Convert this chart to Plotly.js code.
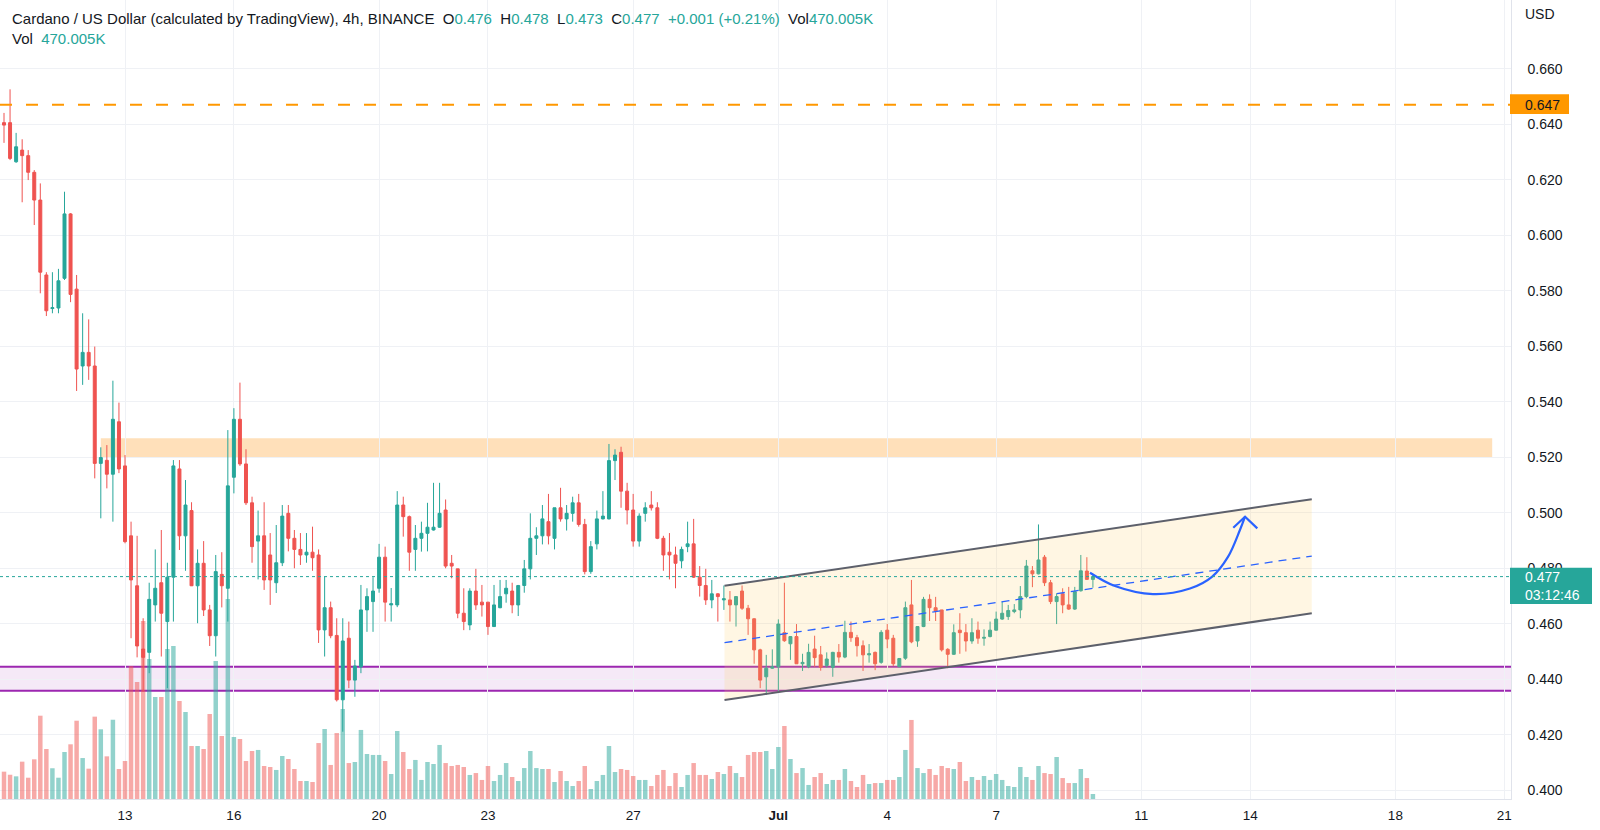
<!DOCTYPE html>
<html>
<head>
<meta charset="utf-8">
<script src="https://cdn.plot.ly/plotly-3.0.1.min.js"></script>
<style>
  html, body { margin: 0; padding: 0; background: #ffffff; }
  #chart { width: 1600px; height: 830px; }
</style>
</head>
<body>
<div id="chart"></div>
<script>
// ---------------- DATA ----------------
// 4h candles, ADA/USD (Binance), first candle opens 2022-06-09 16:00
const firstCandle = '2022-06-09 16:00';
const candleHours = 4;

const open = [
0.6406,0.6406,0.6265,0.6307,0.6287,0.6227,0.6127,0.5857,0.5736,0.5738,
0.5845,0.6077,0.5806,0.5529,0.5578,0.5529,0.5178,0.5189,0.5139,0.5328,
0.5169,0.4917,0.4737,0.4509,0.4497,0.4668,0.4748,0.4608,0.4768,0.5158,
0.4917,0.5008,0.4737,0.4818,0.4650,0.4557,0.4778,0.4728,0.5128,0.5337,
0.5176,0.5036,0.4898,0.4917,0.4848,0.4748,0.4820,0.4998,0.4908,0.4868,
0.4848,0.4858,0.4848,0.4578,0.4658,0.4558,0.4326,0.4548,0.4397,0.4445,
0.4650,0.4680,0.4728,0.4840,0.4668,0.4668,0.5028,0.4986,0.4868,0.4908,
0.4926,0.4938,0.4948,0.5010,0.4818,0.4798,0.4638,0.4596,0.4718,0.4678,
0.4678,0.4590,0.4658,0.4708,0.4718,0.4668,0.4738,0.4798,0.4908,0.4917,
0.4968,0.4908,0.5018,0.4978,0.4998,0.5036,0.4958,0.4788,0.4888,0.4978,
0.4978,0.5188,0.5218,0.5078,0.5010,0.4898,0.4998,0.5028,0.5018,0.4908,
0.4858,0.4848,0.4827,0.4878,0.4888,0.4768,0.4738,0.4686,0.4708,0.4686,
0.4686,0.4668,0.4718,0.4656,0.4618,0.4506,0.4409,0.4440,0.4445,0.4568,
0.4528,0.4554,0.4456,0.4445,0.4509,0.4488,0.4450,0.4443,0.4497,0.4480,
0.4569,0.4550,0.4521,0.4488,0.4497,0.4461,0.4577,0.4548,0.4445,0.4476,
0.4668,0.4538,0.4590,0.4688,0.4658,0.4650,0.4508,0.4490,0.4577,0.4568,
0.4538,0.4577,0.4548,0.4554,0.4577,0.4617,0.4626,0.4644,0.4650,0.4698,
0.4791,0.4780,0.4840,0.4748,0.4680,0.4708,0.4668,0.4653,0.4719,0.4790,
0.476];

const high = [
0.6441,0.6526,0.6369,0.6346,0.6307,0.6235,0.6187,0.5867,0.5867,0.5879,
0.6157,0.6080,0.5857,0.5719,0.5697,0.5599,0.5236,0.5244,0.5476,0.5397,
0.5208,0.4968,0.4917,0.4620,0.4748,0.4868,0.4938,0.4820,0.5190,0.5190,
0.5118,0.5038,0.4868,0.4898,0.4668,0.4848,0.4858,0.5298,0.5377,0.5469,
0.5229,0.5058,0.5008,0.5038,0.4927,0.4956,0.5028,0.5028,0.4938,0.4927,
0.4927,0.4950,0.4868,0.4770,0.4680,0.4620,0.4620,0.4608,0.4470,0.4740,
0.4728,0.4768,0.4888,0.4878,0.4729,0.5078,0.5058,0.4990,0.4956,0.4968,
0.5036,0.5108,0.5108,0.5048,0.4848,0.4798,0.4728,0.4728,0.4798,0.4740,
0.4678,0.4740,0.4758,0.4758,0.4748,0.4740,0.4830,0.4998,0.4948,0.5028,
0.5068,0.5018,0.5090,0.5028,0.5058,0.5068,0.4978,0.4898,0.5008,0.5078,
0.5248,0.5229,0.5238,0.5108,0.5068,0.4998,0.5038,0.5078,0.5038,0.4917,
0.4927,0.4878,0.4878,0.4968,0.4978,0.4808,0.4798,0.4758,0.4710,0.4738,
0.4718,0.4700,0.4738,0.4668,0.4620,0.4510,0.4488,0.4508,0.4616,0.4748,
0.4556,0.4599,0.4492,0.4528,0.4557,0.4520,0.4497,0.4499,0.4527,0.4611,
0.4608,0.4560,0.4540,0.4527,0.4500,0.4577,0.4599,0.4560,0.4476,0.4680,
0.4758,0.4592,0.4697,0.4706,0.4697,0.4650,0.4512,0.4598,0.4638,0.4599,
0.4620,0.4608,0.4580,0.4608,0.4644,0.4680,0.4668,0.4671,0.4736,0.4830,
0.4808,0.4958,0.4848,0.4758,0.4710,0.4728,0.4733,0.4733,0.4848,0.4840,
0.478];

const low = [
0.6333,0.6271,0.6261,0.6119,0.6199,0.6037,0.5791,0.5709,0.5719,0.5719,
0.5839,0.5759,0.5439,0.5461,0.5479,0.5124,0.4980,0.5088,0.4968,0.5143,
0.4890,0.4548,0.4479,0.4355,0.4422,0.4608,0.4482,0.4368,0.4608,0.4866,
0.4791,0.4736,0.4602,0.4628,0.4520,0.4482,0.4659,0.4608,0.5070,0.5169,
0.5028,0.4820,0.4760,0.4722,0.4668,0.4711,0.4808,0.4861,0.4800,0.4812,
0.4820,0.4791,0.4531,0.4482,0.4548,0.4320,0.4211,0.4368,0.4337,0.4422,
0.4571,0.4571,0.4712,0.4608,0.4608,0.4660,0.4914,0.4791,0.4791,0.4860,
0.4861,0.4936,0.4946,0.4800,0.4764,0.4620,0.4577,0.4577,0.4650,0.4626,
0.4560,0.4589,0.4656,0.4676,0.4638,0.4628,0.4712,0.4760,0.4848,0.4886,
0.4886,0.4868,0.4968,0.4936,0.4968,0.4950,0.4778,0.4780,0.4868,0.4976,
0.4976,0.5118,0.5018,0.4958,0.4878,0.4878,0.4968,0.5008,0.4905,0.4791,
0.4760,0.4728,0.4800,0.4858,0.4765,0.4698,0.4668,0.4656,0.4608,0.4650,
0.4608,0.4590,0.4650,0.4560,0.4456,0.4368,0.4344,0.4438,0.4355,0.4535,
0.4470,0.4455,0.4430,0.4440,0.4445,0.4431,0.4442,0.4409,0.4460,0.4476,
0.4535,0.4482,0.4430,0.4460,0.4433,0.4456,0.4512,0.4448,0.4444,0.4470,
0.4530,0.4517,0.4588,0.4610,0.4610,0.4500,0.4440,0.4488,0.4492,0.4500,
0.4528,0.4528,0.4521,0.4551,0.4576,0.4614,0.4614,0.4638,0.4620,0.4692,
0.4732,0.4778,0.4736,0.4671,0.4599,0.4638,0.4650,0.4650,0.4716,0.4758,
0.473];

const close = [
0.6397,0.6277,0.6319,0.6287,0.6227,0.6127,0.5867,0.5728,0.5739,0.5836,
0.6077,0.5787,0.5518,0.5578,0.5529,0.5178,0.5199,0.5139,0.5337,0.5158,
0.4896,0.4758,0.4520,0.4479,0.4688,0.4728,0.4638,0.4768,0.5169,0.4917,
0.5028,0.4737,0.4818,0.4650,0.4557,0.4788,0.4737,0.5097,0.5337,0.5176,
0.5036,0.4878,0.4917,0.4758,0.4758,0.4820,0.4988,0.4908,0.4868,0.4848,
0.4858,0.4838,0.4578,0.4658,0.4557,0.4326,0.4538,0.4397,0.4448,0.4650,
0.4698,0.4718,0.4840,0.4678,0.4672,0.5028,0.4986,0.4858,0.4908,0.4926,
0.4948,0.4948,0.4998,0.4808,0.4808,0.4638,0.4608,0.4718,0.4668,0.4668,
0.4590,0.4668,0.4698,0.4728,0.4668,0.4738,0.4798,0.4908,0.4917,0.4978,
0.4917,0.5018,0.4978,0.4998,0.5036,0.4958,0.4788,0.4878,0.4978,0.4988,
0.5188,0.5208,0.5078,0.5010,0.4898,0.4988,0.5018,0.5018,0.4908,0.4848,
0.4848,0.4818,0.4868,0.4888,0.4768,0.4738,0.4686,0.4708,0.4698,0.4690,
0.4668,0.4698,0.4656,0.4618,0.4506,0.4397,0.4440,0.4445,0.4599,0.4539,
0.4554,0.4456,0.4461,0.4497,0.4478,0.4443,0.4473,0.4497,0.4480,0.4569,
0.4550,0.4521,0.4488,0.4492,0.4456,0.4569,0.4545,0.4456,0.4475,0.4658,
0.4535,0.4590,0.4688,0.4658,0.4646,0.4506,0.4490,0.4568,0.4568,0.4538,
0.4568,0.4548,0.4551,0.4577,0.4617,0.4638,0.4648,0.4650,0.4698,0.4808,
0.4780,0.4830,0.4748,0.4680,0.4698,0.4668,0.4653,0.4716,0.4791,0.4760,
0.477];

// volume per candle, millions of ADA (last bar = 470.005K)
const volume = [
2.57,2.28,2.13,3.51,2.00,3.73,7.83,4.70,2.89,2.00,
4.42,5.14,7.36,3.85,2.85,7.74,6.55,4.01,7.45,2.82,
3.57,12.5,11.0,16.73,13.16,9.59,9.59,14.10,14.38,9.21,
8.18,4.98,4.98,4.70,7.99,12.97,5.92,18.80,5.83,5.64,
3.57,4.51,4.61,3.10,3.01,2.73,4.04,3.76,2.82,1.69,
1.69,1.60,5.26,6.58,3.20,6.20,8.46,3.38,3.48,6.49,
4.23,4.14,4.14,3.57,2.35,6.39,4.42,2.82,3.67,1.79,
3.48,3.29,5.08,3.38,3.10,3.20,3.01,2.26,2.44,1.79,
3.10,1.69,2.26,3.38,2.07,1.69,2.91,4.51,2.91,2.82,
2.82,1.60,2.63,1.69,1.22,1.69,3.10,0.94,1.69,2.26,
4.98,2.54,2.82,2.73,2.16,1.79,1.79,1.22,2.26,2.73,
1.22,2.44,1.13,2.26,3.38,2.26,2.26,1.88,2.54,2.35,
3.10,2.44,2.07,4.14,4.42,4.42,4.51,2.82,4.89,6.86,
3.76,2.44,2.91,1.32,2.07,2.44,1.41,1.79,1.79,2.82,
1.69,1.13,2.26,1.41,1.50,1.50,1.79,1.79,2.07,4.61,
7.43,2.91,2.44,2.82,2.26,3.10,2.91,2.82,3.48,1.69,
2.07,1.79,2.16,1.79,2.35,1.79,1.22,1.13,3.01,2.07,
1.79,3.10,2.44,2.35,3.95,1.97,1.50,1.50,2.82,1.97,
0.47];

// axis ticks
const xTickDates  = ['2022-06-13','2022-06-16','2022-06-20','2022-06-23','2022-06-27','2022-07-01',
                     '2022-07-04','2022-07-07','2022-07-11','2022-07-14','2022-07-18','2022-07-21'];
const xTickLabels = ['13','16','20','23','27','<b>Jul</b>','4','7','11','14','18','21'];
const yTickValues = [0.40,0.42,0.44,0.46,0.48,0.50,0.52,0.54,0.56,0.58,0.60,0.62,0.64,0.66];

// drawings
const resistanceLevel = 0.647;                       // orange dashed line
const supplyZone = {x: ['2022-06-12 08:00','2022-07-20 16:00'], y: [0.5199, 0.5269]};
const supportZone = {y: [0.4359, 0.4445]};
const channelX      = ['2022-06-29 12:24','2022-07-15 16:42'];
const channelTop    = [0.4737, 0.5049];
const channelBottom = [0.4325, 0.4638];
const channelMid    = [0.4532, 0.4844];
const arrowX = ['2022-07-09 14:04','2022-07-10 06:36','2022-07-11 07:42','2022-07-12 08:12',
                '2022-07-12 22:42','2022-07-13 09:18','2022-07-13 17:12','2022-07-13 20:36'];
const arrowY = [0.4784,0.4736,0.4707,0.4727,0.4769,0.4841,0.4938,0.4986];
const arrowHeadX = ['2022-07-13 12:48','2022-07-13 20:36','2022-07-14 04:42'];
const arrowHeadY = [0.4946,0.4986,0.4944];

const lastPrice = 0.477;
const countdown = '03:12:46';
const header = {name:'Cardano / US Dollar (calculated by TradingView), 4h, BINANCE',
                O:'0.476', H:'0.478', L:'0.473', C:'0.477', chg:'+0.001 (+0.21%)', vol:'470.005K'};

// ---------------- BUILD ----------------
const UP = '#26a69a', DOWN = '#ef5350';
const t0 = Date.parse(firstCandle.replace(' ','T') + ':00Z');
const step = candleHours * 3600e3;
const times = open.map((_, i) => t0 + i * step);
const volColors = open.map((o, i) => close[i] >= o ? 'rgba(38,166,154,0.5)' : 'rgba(239,83,80,0.5)');

const day = 86400e3;
const jun13 = Date.parse('2022-06-13T00:00:00Z');
const xRange = [jun13 - 3.4438 * day, jun13 + 38.185 * day];
const yRange = [0.39686, 0.68479];

const traces = [
  { type:'bar', x: times, y: volume, xaxis:'x', yaxis:'y',
    marker:{color: volColors, line:{width:0}}, width: step * 0.74, hoverinfo:'skip' },
  { type:'candlestick', x: times, open, high, low, close, xaxis:'x', yaxis:'y2',
    increasing:{line:{color:UP, width:1}, fillcolor:UP},
    decreasing:{line:{color:DOWN, width:1}, fillcolor:DOWN},
    whiskerwidth:0, hoverinfo:'skip' },
  // channel fill
  { type:'scatter', mode:'lines', xaxis:'x', yaxis:'y2',
    x:[channelX[0], channelX[1], channelX[1], channelX[0], channelX[0]],
    y:[channelTop[0], channelTop[1], channelBottom[1], channelBottom[0], channelTop[0]],
    fill:'toself', fillcolor:'rgba(255,204,102,0.18)', line:{width:0}, hoverinfo:'skip' },
  { type:'scatter', mode:'lines', xaxis:'x', yaxis:'y2', x: channelX, y: channelTop,
    line:{color:'#5d606b', width:2}, hoverinfo:'skip' },
  { type:'scatter', mode:'lines', xaxis:'x', yaxis:'y2', x: channelX, y: channelBottom,
    line:{color:'#5d606b', width:2}, hoverinfo:'skip' },
  { type:'scatter', mode:'lines', xaxis:'x', yaxis:'y2', x: channelX, y: channelMid,
    line:{color:'#2962ff', width:1.3, dash:'8px,6px'}, hoverinfo:'skip' },
  { type:'scatter', mode:'lines', xaxis:'x', yaxis:'y2', x: arrowX, y: arrowY,
    line:{color:'#2962ff', width:2.2, shape:'spline', smoothing:1}, hoverinfo:'skip' },
  { type:'scatter', mode:'lines', xaxis:'x', yaxis:'y2', x: arrowHeadX, y: arrowHeadY,
    line:{color:'#2962ff', width:2.2}, hoverinfo:'skip' }
];

const teal = s => '<span style="color:' + UP + '">' + s + '</span>';
const sp = '\u00a0\u00a0';
const headerLine = header.name + sp + 'O' + teal(header.O) + sp + 'H' + teal(header.H) + sp +
  'L' + teal(header.L) + sp + 'C' + teal(header.C) + sp + teal(header.chg) + sp + 'Vol' + teal(header.vol);

const plotW = 1511, plotH = 799;
const px2paperX = px => px / plotW;

const layout = {
  width:1600, height:830,
  margin:{l:0, r:89, t:0, b:31},
  paper_bgcolor:'#ffffff', plot_bgcolor:'#ffffff',
  showlegend:false,
  font:{family:'"Liberation Sans", Arial, sans-serif', color:'#131722', size:13},
  xaxis:{ type:'date', range:xRange, tickvals: xTickDates, ticktext: xTickLabels,
          showgrid:true, gridcolor:'#eff1f5', gridwidth:1, zeroline:false,
          showline:true, linecolor:'#e0e3eb', linewidth:1,
          ticks:'outside', ticklen:4, tickcolor:'rgba(0,0,0,0)',
          tickfont:{size:13.5, color:'#131722'},
          rangeslider:{visible:false}, fixedrange:true },
  yaxis:{ range:[0, 75.1], visible:false, showgrid:false, zeroline:false, fixedrange:true },
  yaxis2:{ overlaying:'y', side:'right', range:yRange, tickvals:yTickValues,
           ticktext: yTickValues.map(v => '\u00a0\u00a0\u00a0' + v.toFixed(3)),
           showgrid:true, gridcolor:'#eff1f5', gridwidth:1, zeroline:false,
           showline:true, linecolor:'#e0e3eb', linewidth:1,
           ticks:'outside', ticklen:1, tickcolor:'rgba(0,0,0,0)',
           tickfont:{size:14, color:'#131722'}, fixedrange:true },
  shapes:[
    // support zone (purple)
    { type:'rect', xref:'paper', yref:'y2', x0:0, x1:1, y0:supportZone.y[0], y1:supportZone.y[1],
      fillcolor:'rgba(156,39,176,0.1)', line:{width:0}, layer:'below' },
    { type:'line', xref:'paper', yref:'y2', x0:0, x1:1, y0:supportZone.y[1], y1:supportZone.y[1],
      line:{color:'#9c27b0', width:2}, layer:'below' },
    { type:'line', xref:'paper', yref:'y2', x0:0, x1:1, y0:supportZone.y[0], y1:supportZone.y[0],
      line:{color:'#9c27b0', width:2}, layer:'below' },
    // supply zone (orange)
    { type:'rect', xref:'x', yref:'y2', x0:supplyZone.x[0], x1:supplyZone.x[1],
      y0:supplyZone.y[0], y1:supplyZone.y[1],
      fillcolor:'rgba(255,160,40,0.32)', line:{width:0}, layer:'below' },
    // resistance dashed line
    { type:'line', xref:'paper', yref:'y2', x0:0, x1:1, y0:resistanceLevel, y1:resistanceLevel,
      line:{color:'#ff9800', width:2, dash:'12px,14px'}, layer:'above' },
    // last price dotted line
    { type:'line', xref:'paper', yref:'y2', x0:0, x1:1, y0:lastPrice, y1:lastPrice,
      line:{color:UP, width:1, dash:'dot'}, layer:'above' },
    // price label boxes on the axis
    { type:'rect', xref:'paper', yref:'y2', x0:px2paperX(1510), x1:px2paperX(1569),
      y0:0.6437, y1:0.6508, fillcolor:'#ff9800', line:{width:0}, layer:'above' },
    { type:'rect', xref:'paper', yref:'y2', x0:px2paperX(1510), x1:px2paperX(1592),
      y0:0.4671, y1:0.4802, fillcolor:UP, line:{width:0}, layer:'above' }
  ],
  annotations:[
    { xref:'paper', yref:'paper', x:px2paperX(10), y:1 - 18.5/plotH, xanchor:'left', yanchor:'middle',
      text: headerLine, showarrow:false, font:{size:15, color:'#131722'} },
    { xref:'paper', yref:'paper', x:px2paperX(10), y:1 - 39/plotH, xanchor:'left', yanchor:'middle',
      text: 'Vol' + sp + teal(header.vol), showarrow:false, font:{size:15, color:'#131722'} },
    { xref:'paper', yref:'paper', x:px2paperX(1522.5), y:1 - 14/plotH, xanchor:'left', yanchor:'middle',
      text:'USD', showarrow:false, font:{size:14, color:'#131722'} },
    { xref:'paper', yref:'y2', x:px2paperX(1522.5), y:resistanceLevel, xanchor:'left', yanchor:'middle',
      text: resistanceLevel.toFixed(3), showarrow:false, font:{size:14, color:'#131722'} },
    { xref:'paper', yref:'y2', x:px2paperX(1522.5), y:0.4736, xanchor:'left', yanchor:'middle',
      align:'left', text: lastPrice.toFixed(3) + '<br>' + countdown, showarrow:false,
      font:{size:14, color:'#ffffff'} }
  ]
};

Plotly.newPlot('chart', traces, layout, {staticPlot:true, displayModeBar:false});
</script>
</body>
</html>
